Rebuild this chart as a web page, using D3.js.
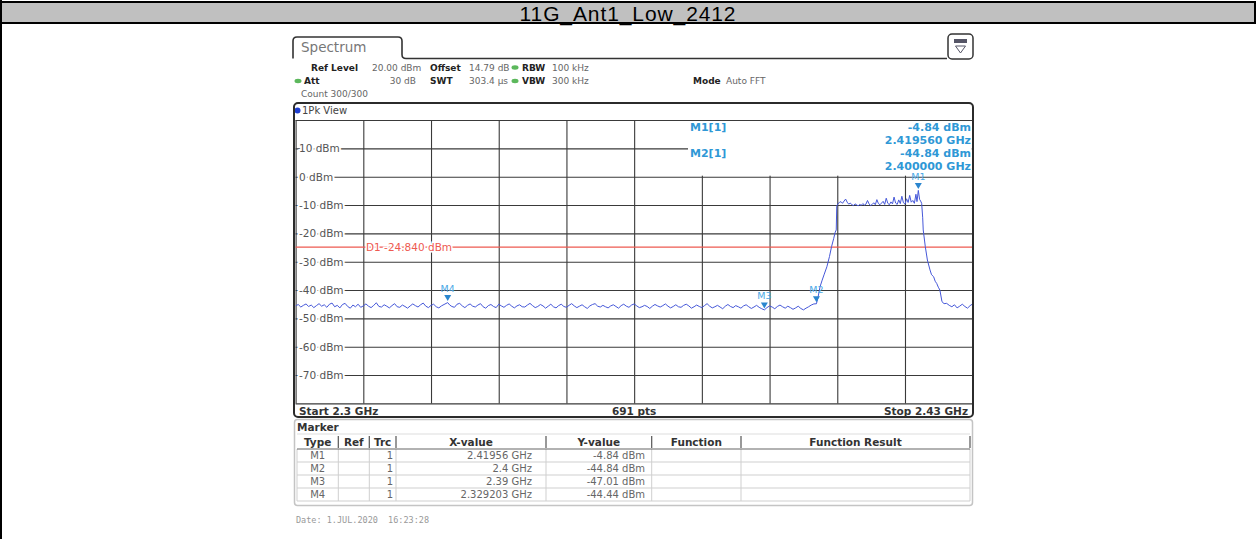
<!DOCTYPE html>
<html>
<head>
<meta charset="utf-8">
<script src="https://cdn.jsdelivr.net/npm/d3@7"></script>
<style>
body { margin: 0; background: #fff; }
svg { display: block; font-family: "DejaVu Sans", Verdana, sans-serif; }
</style>
</head>
<body>
<svg id="chart" width="1257" height="539"></svg>
<script>
// ---- data ----
var title = "11G_Ant1_Low_2412";

var startMHz = 2300, stopMHz = 2430, sweepPoints = 691;
var refLevel = 20, bottomLevel = -80;
var yTickLevels = [10, 0, -10, -20, -30, -40, -50, -60, -70];
var yGridLevels = [20, 10, 0, -10, -20, -30, -40, -50, -60, -70, -80];
var xDivisions = [2300, 2313, 2326, 2339, 2352, 2365, 2378, 2391, 2404, 2417, 2430];
var d1Level = -24.84;

var markerNames = ["M1", "M2", "M3", "M4"];
var markerFreqGHz = [2.41956, 2.4, 2.39, 2.329203];
var markerLevels = [-4.84, -44.84, -47.01, -44.44];
var markerTrc = [1, 1, 1, 1];

var tableHeaders = ["Type", "Ref", "Trc", "X-value", "Y-value", "Function", "Function Result"];

// trace, [MHz, dBm]
var noiseLeft = [
  [2300.0,-45.6],[2300.5,-45.1],[2301.0,-46.0],[2301.5,-45.4],[2302.0,-44.9],[2302.5,-45.8],[2303.0,-45.3],[2303.5,-46.2],[2304.0,-45.5],[2304.5,-44.8],
  [2305.0,-45.7],[2305.5,-45.2],[2306.0,-46.1],[2306.5,-45.0],[2307.0,-44.6],[2307.5,-45.9],[2308.0,-45.4],[2308.5,-46.3],[2309.0,-45.1],[2309.5,-44.7],
  [2310.0,-45.8],[2310.5,-46.4],[2311.0,-45.3],[2311.5,-45.9],[2312.0,-45.0],[2312.5,-46.1],[2313.0,-45.6],[2313.5,-44.9],[2314.0,-45.7],[2314.5,-46.2],
  [2315.0,-45.4],[2315.5,-44.5],[2316.0,-45.8],[2316.5,-46.0],[2317.0,-45.2],[2317.5,-45.7],[2318.0,-46.3],[2318.5,-45.5],[2319.0,-44.8],[2319.5,-45.9],
  [2320.0,-46.1],[2320.5,-45.3],[2321.0,-45.8],[2321.5,-46.4],[2322.0,-45.6],[2322.5,-44.9],[2323.0,-45.5],[2323.5,-46.0],[2324.0,-45.2],[2324.5,-44.6],
  [2325.0,-45.7],[2325.5,-46.2],[2326.0,-45.4],[2326.5,-45.0],[2327.0,-45.9],[2327.5,-46.3],[2328.0,-45.6],[2328.5,-45.1],[2329.2,-44.44],[2329.6,-45.3],
  [2330.0,-45.8],[2330.5,-46.1],[2331.0,-45.0],[2331.5,-44.7],[2332.0,-45.6],[2332.5,-46.2],[2333.0,-45.4],[2333.5,-44.9],[2334.0,-45.7],[2334.5,-46.0],
  [2335.0,-45.3],[2335.5,-44.8],[2336.0,-45.9],[2336.5,-46.4],[2337.0,-45.5],[2337.5,-45.1],[2338.0,-45.8],[2338.5,-46.2],[2339.0,-45.0],[2339.5,-45.6],
  [2340.0,-46.1],[2340.5,-45.4],[2341.0,-44.9],[2341.5,-45.7],[2342.0,-46.3],[2342.5,-45.6],[2343.0,-45.2],[2343.5,-45.9],[2344.0,-46.0],[2344.5,-45.3],
  [2345.0,-44.7],[2345.5,-45.5],[2346.0,-46.2],[2346.5,-45.8],[2347.0,-45.1],[2347.5,-45.6],[2348.0,-46.4],[2348.5,-45.7],[2349.0,-45.0],[2349.5,-45.9],
  [2350.0,-46.3],[2350.5,-45.5],[2351.0,-45.0],[2351.5,-45.8],[2352.0,-46.1],[2352.5,-45.4],[2353.0,-44.8],[2353.5,-45.6],[2354.0,-46.2],[2354.5,-45.7],
  [2355.0,-45.2],[2355.5,-45.9],[2356.0,-46.5],[2356.5,-45.6],[2357.0,-45.1],[2357.5,-44.8],[2358.0,-45.7],[2358.5,-46.0],[2359.0,-45.4],[2359.5,-45.9],
  [2360.0,-46.3],[2360.5,-45.6],[2361.0,-45.2],[2361.5,-45.8],[2362.0,-46.4],[2362.5,-45.5],[2363.0,-45.0],[2363.5,-45.7],[2364.0,-46.1],[2364.5,-45.3],
  [2365.0,-44.9],[2365.5,-45.6],[2366.0,-46.2],[2366.5,-45.9],[2367.0,-45.4],[2367.5,-45.8],[2368.0,-46.5],[2368.5,-45.7],[2369.0,-45.1],[2369.5,-45.6],
  [2370.0,-46.0],[2370.5,-45.5],[2371.0,-44.9],[2371.5,-45.7],[2372.0,-46.3],[2372.5,-45.8],[2373.0,-45.2],[2373.5,-45.9],[2374.0,-46.1],[2374.5,-45.4],
  [2375.0,-45.0],[2375.5,-45.6],[2376.0,-46.4],[2376.5,-45.9],[2377.0,-45.3],[2377.5,-45.8],[2378.0,-46.2],[2378.5,-45.5],[2379.0,-44.8],[2379.5,-45.7],
  [2380.0,-46.3],[2380.5,-45.9],[2381.0,-45.4],[2381.5,-46.0],[2382.0,-46.6],[2382.5,-45.7],[2383.0,-45.1],[2383.5,-45.8],[2384.0,-46.2],[2384.5,-45.5],
  [2385.0,-45.9],[2385.5,-46.4],[2386.0,-45.6],[2386.5,-45.2],[2387.0,-45.9],[2387.5,-46.5],[2388.0,-46.0],[2388.5,-45.4],[2389.0,-46.1],[2389.5,-46.6],
  [2390.0,-47.01],[2390.5,-46.2],[2391.0,-45.6],[2391.5,-46.0],[2392.0,-46.6],[2392.5,-45.8],[2393.0,-45.3],[2393.5,-45.9],[2394.0,-46.4],[2394.5,-45.7],
  [2395.0,-46.2],[2395.5,-46.8],[2396.0,-46.3],[2396.5,-45.7],[2397.0,-46.5],[2397.5,-47.0],[2398.0,-46.4],[2398.5,-45.9],[2399.0,-45.3],[2399.5,-44.9]
];
var riseEdge = [
  [2400.0,-44.84],[2400.3,-42.6],[2400.7,-38.8],[2401.1,-36.5],[2401.5,-34.4],[2402.0,-31.8],
  [2402.5,-28.2],[2402.9,-24.7],[2403.3,-21.9],[2403.6,-19.6],[2403.8,-18.8],[2403.9,-10.4]
];
var channelTop = [
  [2404.1,-9.6],[2404.4,-9.1],[2404.7,-8.8],[2405.0,-9.4],[2405.3,-8.6],[2405.6,-7.9],[2405.9,-9.0],[2406.2,-9.7],[2406.5,-9.3],[2406.8,-9.9],
  [2407.1,-10.2],[2407.4,-9.6],[2407.7,-9.9],[2408.0,-10.3],[2408.3,-9.8],[2408.6,-10.1],[2408.9,-9.5],[2409.2,-10.0],[2409.5,-9.7],[2409.8,-8.4],
  [2410.1,-9.6],[2410.4,-10.2],[2410.7,-9.8],[2411.0,-9.2],[2411.3,-9.9],[2411.6,-8.1],[2411.9,-9.5],[2412.2,-9.9],[2412.5,-9.3],[2412.8,-8.7],
  [2413.1,-9.8],[2413.4,-7.6],[2413.7,-9.4],[2414.0,-9.9],[2414.3,-8.9],[2414.6,-9.6],[2414.9,-7.2],[2415.2,-9.3],[2415.5,-9.8],[2415.8,-8.2],
  [2416.1,-9.5],[2416.4,-6.9],[2416.7,-9.2],[2417.0,-9.7],[2417.3,-7.8],[2417.6,-9.1],[2417.9,-6.6],[2418.2,-9.0],[2418.5,-8.4],[2418.8,-9.4],
  [2419.1,-6.2],[2419.3,-8.8],[2419.56,-4.84],[2419.8,-8.0],[2420.0,-8.6],[2420.2,-9.4]
];
var fallEdge = [
  [2420.4,-14.5],[2420.5,-18.8],[2420.9,-24.7],[2421.3,-29.4],[2421.8,-32.9],[2422.1,-34.6],[2422.5,-35.3],
  [2422.8,-36.9],[2423.1,-37.7],[2423.4,-39.0],[2423.7,-40.0],[2424.1,-44.1],[2424.5,-44.8],[2425.0,-44.7]
];
var noiseRight = [
  [2425.5,-45.4],[2426.0,-45.9],[2426.5,-45.2],[2427.0,-46.3],[2427.5,-45.7],[2428.0,-45.0],[2428.5,-45.8],[2429.0,-46.4],[2429.5,-45.5],[2430.0,-44.9]
];

// ---- layout ----
var svg = d3.select("#chart");
var plotL = 295.6, plotR = 972.7, plotT = 120, plotB = 403.4;

var x = d3.scaleLinear().domain([startMHz, stopMHz]).range([plotL, plotR]);
var y = d3.scaleLinear().domain([refLevel, bottomLevel]).range([plotT, plotB]);

var infoBlue = "#2f98d6";

// page header (word table cell)
svg.append("rect")
  .attr("x", 1).attr("y", 2).attr("width", 1254).attr("height", 21)
  .attr("fill", "#c0c0c0").attr("stroke", "#000").attr("stroke-width", 2);
svg.append("line")
  .attr("x1", 1).attr("x2", 1).attr("y1", 0).attr("y2", 539)
  .attr("stroke", "#000").attr("stroke-width", 2);
svg.append("text")
  .attr("x", 628).attr("y", 20.5)
  .attr("text-anchor", "middle")
  .style("font-family", "'Liberation Sans', Arial, sans-serif")
  .style("font-size", "21px")
  .style("letter-spacing", "0.9px")
  .attr("fill", "#000")
  .text(title);

// Spectrum tab
svg.append("path")
  .attr("d", "M293,58.5 V41 Q293,37 297,37 H398 Q402,37 402,41 V54.5 Q402,58.5 406,58.5 H947")
  .attr("fill", "none").attr("stroke", "#333").attr("stroke-width", 1.6);
svg.append("text")
  .attr("x", 301).attr("y", 52)
  .style("font-size", "13.5px").attr("fill", "#777")
  .text("Spectrum");

// little icon top right
svg.append("rect")
  .attr("x", 948).attr("y", 34).attr("width", 25).attr("height", 25).attr("rx", 4)
  .attr("fill", "#fff").attr("stroke", "#333").attr("stroke-width", 1.5);
svg.append("rect")
  .attr("x", 954).attr("y", 39).attr("width", 13).attr("height", 4)
  .attr("fill", "#556");
svg.append("path")
  .attr("d", "M955.5,46 L965.5,46 L960.5,53 Z")
  .attr("fill", "none").attr("stroke", "#556").attr("stroke-width", 1);

// settings block
var info = svg.append("g").style("font-size", "9px");
function infoText(px, py, s, bold, anchor) {
  info.append("text")
    .attr("x", px).attr("y", py)
    .attr("text-anchor", anchor || "start")
    .attr("font-weight", bold ? "bold" : "normal")
    .attr("fill", bold ? "#222" : "#666")
    .text(s);
}
function greenDot(px, py) {
  info.append("ellipse")
    .attr("cx", px).attr("cy", py).attr("rx", 3.5).attr("ry", 2.2)
    .attr("fill", "#5cb85c");
}
infoText(311, 70.5, "Ref Level", true);
infoText(372, 70.5, "20.00 dBm", false);
infoText(430, 70.5, "Offset", true);
infoText(469, 70.5, "14.79 dB", false);
greenDot(515, 67.5);
infoText(522, 70.5, "RBW", true);
infoText(552, 70.5, "100 kHz", false);

greenDot(298, 81);
infoText(304, 84, "Att", true);
infoText(416, 84, "30 dB", false, "end");
infoText(430, 84, "SWT", true);
infoText(469, 84, "303.4 \u00b5s", false);
greenDot(515, 81);
infoText(522, 84, "VBW", true);
infoText(552, 84, "300 kHz", false);
infoText(693, 84, "Mode", true);
infoText(726, 84, "Auto FFT", false);

infoText(301, 97, "Count 300/300", false);

// 1Pk View bar
svg.append("circle").attr("cx", 297.5).attr("cy", 110.5).attr("r", 3).attr("fill", "#1f3fd0");
svg.append("text")
  .attr("x", 302).attr("y", 114)
  .style("font-size", "10px").attr("fill", "#444")
  .text("1Pk View");

// grid through d3 axes
var gridColor = "#3a3a3a";
var vGrid = svg.append("g")
  .attr("transform", "translate(0," + plotB + ")")
  .call(d3.axisBottom(x).tickValues(xDivisions).tickSize(-(plotB - plotT)).tickFormat(""));
vGrid.select(".domain").remove();
vGrid.selectAll("line").attr("stroke", gridColor).attr("stroke-width", 1.1);

var hGrid = svg.append("g")
  .attr("transform", "translate(" + plotL + ",0)")
  .call(d3.axisRight(y).tickValues(yGridLevels).tickSize(plotR - plotL).tickFormat(""));
hGrid.select(".domain").remove();
hGrid.selectAll("line").attr("stroke", gridColor).attr("stroke-width", 1.1);

// marker readout box covers the top right grid
svg.append("rect")
  .attr("x", 688).attr("y", y(refLevel) + 1).attr("width", plotR - 688 - 1).attr("height", y(0) - y(refLevel) - 2)
  .attr("fill", "#fff");

// level labels
svg.append("g").selectAll("text")
  .data(yTickLevels)
  .enter().append("text")
    .attr("x", 299)
    .attr("y", function(d) { return y(d) + 4; })
    .style("font-size", "10.5px")
    .attr("fill", "#555")
    .attr("stroke", "#fff").attr("stroke-width", 4)
    .style("paint-order", "stroke")
    .text(function(d) { return d + " dBm"; });

// display line D1
svg.append("line")
  .attr("x1", plotL).attr("x2", plotR)
  .attr("y1", y(d1Level)).attr("y2", y(d1Level))
  .attr("stroke", "#ee5a50").attr("stroke-width", 1.2);
svg.append("text")
  .attr("x", 366).attr("y", y(d1Level) + 4)
  .style("font-size", "10.5px")
  .attr("fill", "#ee5a50")
  .attr("stroke", "#fff").attr("stroke-width", 3)
  .style("paint-order", "stroke")
  .text("D1  " + d1Level.toFixed(3) + " dBm");

// trace
var trace = noiseLeft.concat(riseEdge, channelTop, fallEdge, noiseRight);
svg.append("clipPath").attr("id", "plotClip")
  .append("rect").attr("x", plotL).attr("y", plotT).attr("width", plotR - plotL).attr("height", plotB - plotT);
var line = d3.line()
  .x(function(d) { return x(d[0]); })
  .y(function(d) { return y(d[1]); });
svg.append("path")
  .datum(trace)
  .attr("clip-path", "url(#plotClip)")
  .attr("fill", "none")
  .attr("stroke", "#4557d8")
  .attr("stroke-width", 1)
  .attr("d", line);

// markers on the trace
var markers = markerNames.map(function(n, i) {
  return { name: n, mhz: markerFreqGHz[i] * 1000, level: markerLevels[i] };
});
var mk = svg.append("g").selectAll("g")
  .data(markers)
  .enter().append("g")
    .attr("transform", function(d) { return "translate(" + x(d.mhz) + "," + (y(d.level) - 1.5) + ")"; });
mk.append("path")
  .attr("d", "M-3.5,-6 L3.5,-6 L0,0 Z")
  .attr("fill", "#2a86cf");
mk.append("text")
  .attr("y", -9)
  .attr("text-anchor", "middle")
  .style("font-size", "9.5px")
  .attr("fill", "#4aa8e6")
  .text(function(d) { return d.name; });

// marker readout (M1, M2)
var readout = svg.append("g")
  .style("font-size", "11px").attr("font-weight", "bold").attr("fill", infoBlue);
[0, 1].forEach(function(i) {
  var top = 130.5 + i * 26.6;
  readout.append("text").attr("x", 690).attr("y", top).text(markerNames[i] + "[" + markerTrc[i] + "]");
  readout.append("text").attr("x", 971).attr("y", top).attr("text-anchor", "end")
    .text(markerLevels[i].toFixed(2) + " dBm");
  readout.append("text").attr("x", 971).attr("y", top + 13.3).attr("text-anchor", "end")
    .text(markerFreqGHz[i].toFixed(6) + " GHz");
});

// frame around the diagram
svg.append("rect")
  .attr("x", 294).attr("y", 103).attr("width", 679).attr("height", 314).attr("rx", 4)
  .attr("fill", "none").attr("stroke", "#2b2b2b").attr("stroke-width", 2);

// start / stop row
var foot = svg.append("g").style("font-size", "10.5px").attr("font-weight", "bold").attr("fill", "#333");
foot.append("text").attr("x", 299).attr("y", 414.5).text("Start " + startMHz / 1000 + " GHz");
foot.append("text").attr("x", (plotL + plotR) / 2).attr("y", 414.5).attr("text-anchor", "middle").text(sweepPoints + " pts");
foot.append("text").attr("x", 968).attr("y", 414.5).attr("text-anchor", "end").text("Stop " + stopMHz / 1000 + " GHz");

// marker table
svg.append("rect")
  .attr("x", 294.5).attr("y", 419.5).attr("width", 678).attr("height", 86).attr("rx", 3)
  .attr("fill", "#fff").attr("stroke", "#c4c4c4").attr("stroke-width", 1.5);
svg.append("text")
  .attr("x", 297).attr("y", 430.5)
  .style("font-size", "10.5px").attr("font-weight", "bold").attr("fill", "#333")
  .text("Marker");

var colEdges = [297, 338.3, 369.3, 396, 546, 651.7, 741, 970];
var headTop = 435, headBot = 449, rowH = 13;
var tbl = svg.append("g");
tbl.append("line").attr("x1", 297).attr("x2", 970).attr("y1", headTop - 1).attr("y2", headTop - 1)
  .attr("stroke", "#ddd");
tbl.selectAll("line.sep")
  .data(colEdges.slice(1))
  .enter().append("line")
    .attr("class", "sep")
    .attr("x1", function(d) { return d; }).attr("x2", function(d) { return d; })
    .attr("y1", headTop + 1).attr("y2", headBot - 1)
    .attr("stroke", "#555").attr("stroke-width", 1.2);
tbl.selectAll("line.vrow")
  .data(colEdges)
  .enter().append("line")
    .attr("class", "vrow")
    .attr("x1", function(d) { return d; }).attr("x2", function(d) { return d; })
    .attr("y1", headBot).attr("y2", headBot + rowH * markerNames.length)
    .attr("stroke", "#cfcfcf");
tbl.append("line").attr("x1", 297).attr("x2", 970).attr("y1", headBot).attr("y2", headBot)
  .attr("stroke", "#666").attr("stroke-width", 1.2);
tbl.selectAll("line.hrow")
  .data(markerNames)
  .enter().append("line")
    .attr("class", "hrow")
    .attr("x1", 297).attr("x2", 970)
    .attr("y1", function(d, i) { return headBot + rowH * (i + 1); })
    .attr("y2", function(d, i) { return headBot + rowH * (i + 1); })
    .attr("stroke", "#cfcfcf");

tbl.selectAll("text.head")
  .data(tableHeaders)
  .enter().append("text")
    .attr("class", "head")
    .attr("x", function(d, i) { return (colEdges[i] + colEdges[i + 1]) / 2; })
    .attr("y", headTop + 10.5)
    .attr("text-anchor", "middle")
    .style("font-size", "10.5px").attr("font-weight", "bold").attr("fill", "#333")
    .text(function(d) { return d; });

var rows = tbl.selectAll("g.row")
  .data(markerNames)
  .enter().append("g")
    .attr("class", "row")
    .attr("transform", function(d, i) { return "translate(0," + (headBot + rowH * i + 10) + ")"; })
    .style("font-size", "10px").attr("fill", "#666");
rows.append("text").attr("x", (colEdges[0] + colEdges[1]) / 2).attr("text-anchor", "middle")
  .text(function(d) { return d; });
rows.append("text").attr("x", colEdges[3] - 3).attr("text-anchor", "end")
  .text(function(d, i) { return markerTrc[i]; });
rows.append("text").attr("x", 532).attr("text-anchor", "end")
  .text(function(d, i) { return markerFreqGHz[i] + " GHz"; });
rows.append("text").attr("x", 645).attr("text-anchor", "end")
  .text(function(d, i) { return markerLevels[i].toFixed(2) + " dBm"; });

// timestamp
svg.append("text")
  .attr("x", 296).attr("y", 523)
  .style("font-family", "'DejaVu Sans Mono', monospace")
  .style("font-size", "8.5px")
  .attr("fill", "#999")
  .attr("xml:space", "preserve")
  .text("Date: 1.JUL.2020  16:23:28");
</script>
</body>
</html>
